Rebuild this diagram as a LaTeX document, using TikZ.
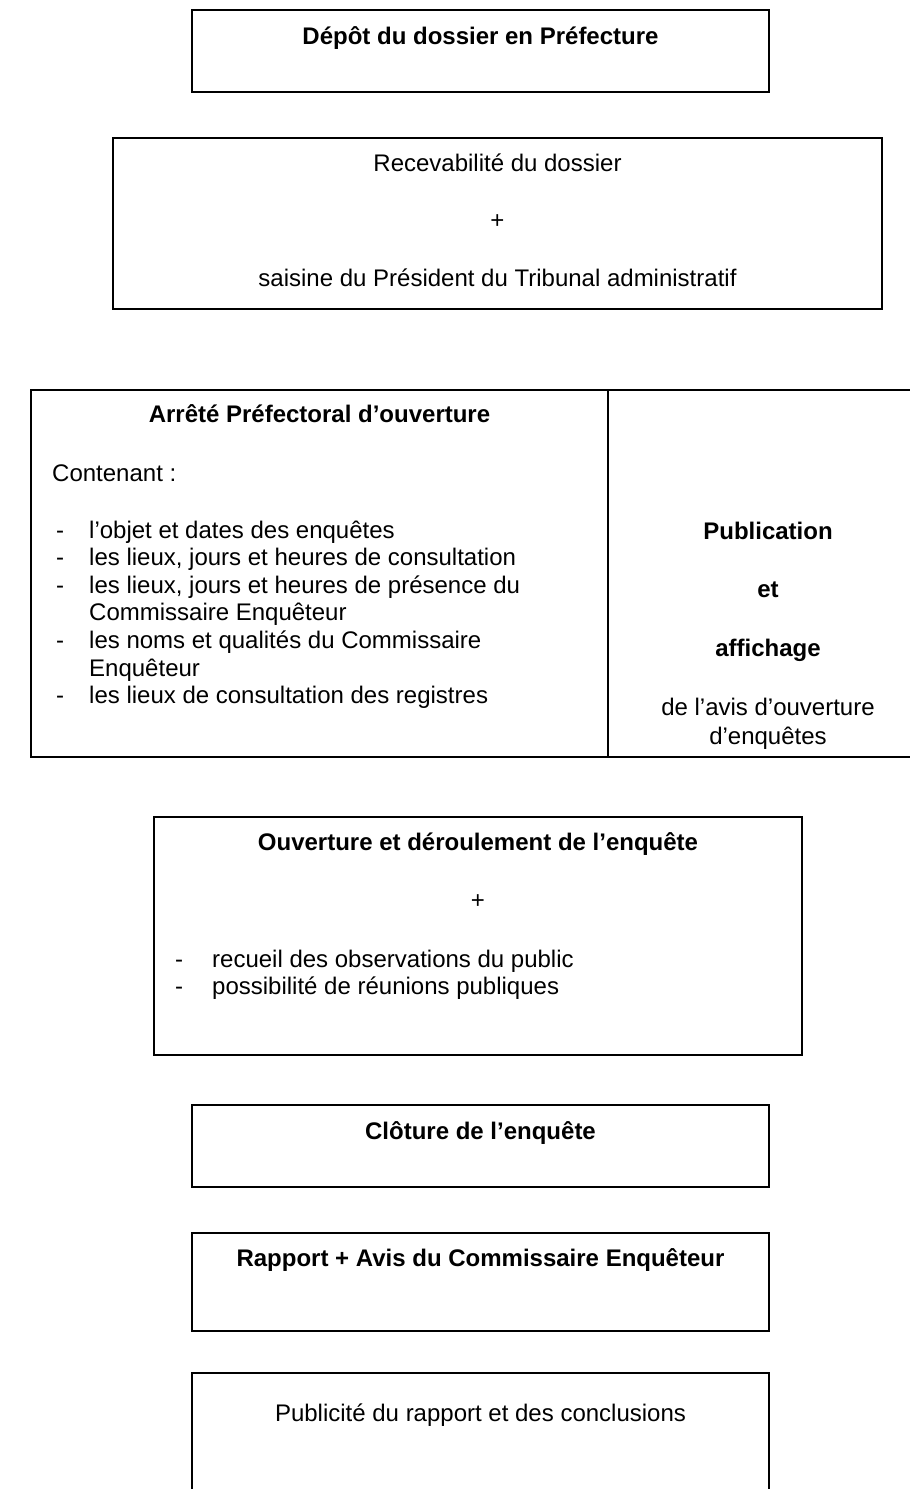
\documentclass[tikz,border=0pt]{standalone}
\usepackage{fontspec}
\setmainfont{Liberation Sans}
\usetikzlibrary{positioning}
\newcommand{\taille}{\fontsize{24}{27.6}\selectfont}
\tikzset{
  cadre/.style={draw=black, line width=1.6pt, outer sep=0pt},
  texte/.style={font=\taille, anchor=base},
  titre/.style={font=\taille\bfseries, anchor=base},
  liste/.style={font=\taille, anchor=base west}
}

\begin{document}
\begin{tikzpicture}[x=1pt, y=-1pt, every node/.style={inner sep=0pt}]
\useasboundingbox (0,0) rectangle (910,1489);

% Cadres
\node[cadre, minimum width=577pt, minimum height=82pt] (depot) at (480.5,51) {};
\node[cadre, minimum width=769pt, minimum height=171pt] (recevabilite) at (497.5,223.5) {};
\node[cadre, minimum width=577pt, minimum height=367pt] (arrete) at (319.5,573.5) {};
\draw[cadre] (arrete.north east) -- (910,390);
\draw[cadre] (arrete.south east) -- (910,757);
\node[cadre, minimum width=648pt, minimum height=238pt] (ouverture) at (478,936) {};
\node[cadre, minimum width=577pt, minimum height=82pt] (cloture) at (480.5,1146) {};
\node[cadre, minimum width=577pt, minimum height=98pt] (rapport) at (480.5,1282) {};
\draw[cadre] (192,1489) -- (192,1373) -- (769,1373) -- (769,1489);

% Textes
\node[titre] (depot-t) at (480.5,44) {Dépôt du dossier en Préfecture};

\node[texte] (recev-t) at (497.5,171) {Recevabilité du dossier};
\node[texte] (plus-a) at (497.5,228) {+};
\node[texte] (saisine-t) at (497.5,286) {saisine du Président du Tribunal administratif};

\node[titre] (arrete-t) at (319.5,422) {Arrêté Préfectoral d’ouverture};
\node[liste] (contenant) at (52,481) {Contenant :};
\node[liste] (arrete-l) at (56,538) {%
\begin{tabular}[t]{@{}p{33pt}@{}l@{}}
- & l’objet et dates des enquêtes\\
- & les lieux, jours et heures de consultation\\
- & les lieux, jours et heures de présence du\\
  & Commissaire Enquêteur\\
- & les noms et qualités du Commissaire\\
  & Enquêteur\\
- & les lieux de consultation des registres
\end{tabular}};

% base = derniere ligne
\node[texte, align=center] (publication) at (768,744) {\textbf{Publication}\\[31pt]\textbf{et}\\[31pt]\textbf{affichage}\\[31pt]de l’avis d’ouverture\\[1.4pt]d’enquêtes};

\node[titre] (ouverture-t) at (478,850) {Ouverture et déroulement de l’enquête};
\node[texte] (plus-b) at (478,908) {+};
\node[liste] (ouverture-l) at (175,967) {%
\begin{tabular}[t]{@{}p{37pt}@{}l@{}}
- & recueil des observations du public\\
- & possibilité de réunions publiques
\end{tabular}};

\node[titre] (cloture-t) at (480.5,1139) {Clôture de l’enquête};
\node[titre] (rapport-t) at (480.5,1266) {Rapport + Avis du Commissaire Enquêteur};
\node[texte] (publicite-t) at (480.5,1421) {Publicité du rapport et des conclusions};
\end{tikzpicture}
\end{document}
